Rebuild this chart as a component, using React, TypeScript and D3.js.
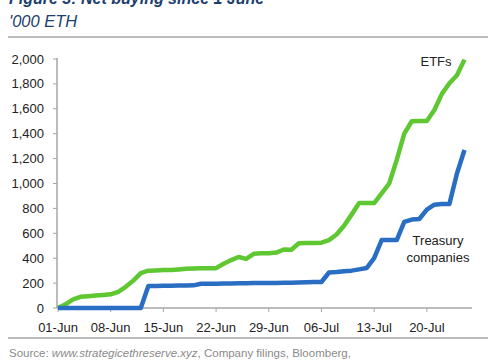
import React from 'react';
import * as d3 from 'd3';

// '000 ETH, daily from 01-Jun (index 0) to 25-Jul
const etfs = [
  0, 30, 70, 90, 95, 100, 105, 110, 130, 170, 220, 280, 300, 302, 305, 305, 310, 315, 318, 320,
  320, 320, 355, 385, 410, 395, 435, 440, 440, 445, 470, 468, 520, 522, 522, 525, 545, 590, 660, 750,
  843, 843, 843, 920, 1000, 1190, 1400, 1500, 1502, 1502, 1590, 1720, 1805, 1870, 1995,
];
const treasury = [
  0, 0, 0, 0, 0, 0, 0, 0, 0, 0, 0, 0, 177, 177, 178, 178, 180, 180, 182, 195,
  195, 195, 197, 197, 198, 198, 200, 200, 200, 200, 202, 203, 205, 207, 209, 209, 285, 289, 295, 300,
  310, 321, 400, 546, 546, 546, 691, 710, 715, 790, 830, 835, 835, 1080, 1269,
];
const startDay = new Date(2025, 5, 1);
const endDay = new Date(2025, 6, 26);
const xTickLabels = ['01-Jun', '08-Jun', '15-Jun', '22-Jun', '29-Jun', '06-Jul', '13-Jul', '20-Jul'];
const yTicks = [0, 200, 400, 600, 800, 1000, 1200, 1400, 1600, 1800, 2000];

const parseTick = d3.timeParse('%d-%b-%Y');

export default function App() {
  const width = 500;
  const height = 360;
  const left = 58;
  const right = 472;
  const top = 59;
  const bottom = 308;

  const x = d3.scaleTime().domain([startDay, endDay]).range([left, right]);
  const y = d3.scaleLinear().domain([0, 2000]).range([bottom, top]);

  const dayAt = (i: number) => d3.timeDay.offset(startDay, i);
  const line = d3.line<number>()
    .x((d, i) => x(dayAt(i)))
    .y(d => y(d));

  const font = '"Liberation Sans", Arial, sans-serif';
  const fmt = d3.format(',');

  return (
    <svg width={width} height={height} style={{ position: 'absolute', left: 0, top: 0, background: '#fff' }}
      fontFamily={font}>
      <text x={9} y={4} fontSize={16} fontWeight="bold" fontStyle="italic" fill="#1d3f6e">
        Figure 3: Net buying since 1 June
      </text>
      <text x={9} y={27} fontSize={16.5} fontStyle="italic" fill="#1d3f6e">'000 ETH</text>
      <line x1={8} x2={488} y1={37} y2={37} stroke="#7a7a7a" strokeWidth={1} />

      {/* y axis */}
      <line x1={left - 1} x2={left - 1} y1={top - 1} y2={bottom} stroke="#a6a6a6" strokeWidth={1.5} />
      {yTicks.map(t => (
        <g key={t}>
          <line x1={left - 5} x2={left - 1} y1={y(t)} y2={y(t)} stroke="#a6a6a6" />
          <text x={44} y={y(t)} dy="0.35em" textAnchor="end" fontSize={13} fill="#222">{fmt(t)}</text>
        </g>
      ))}

      {/* x axis */}
      <line x1={left - 1} x2={right} y1={bottom} y2={bottom} stroke="#a6a6a6" strokeWidth={1.5} />
      {xTickLabels.map(t => {
        const d = parseTick(t + '-2025') as Date;
        return (
          <g key={t}>
            <line x1={x(d)} x2={x(d)} y1={bottom} y2={bottom + 4} stroke="#a6a6a6" />
            <text x={x(d)} y={bottom + 24} textAnchor="middle" fontSize={13} fill="#222">{t}</text>
          </g>
        );
      })}

      <path d={line(etfs) ?? ''} fill="none" stroke="#5ec732" strokeWidth={4.5} strokeLinejoin="round" />
      <path d={line(treasury) ?? ''} fill="none" stroke="#2a6ec3" strokeWidth={4.5} strokeLinejoin="round" />

      <text x={436} y={66} textAnchor="middle" fontSize={13} fill="#222">ETFs</text>
      <text x={438} y={245} textAnchor="middle" fontSize={13} fill="#222">Treasury</text>
      <text x={438} y={262} textAnchor="middle" fontSize={13} fill="#222">companies</text>

      <line x1={8} x2={488} y1={338} y2={338} stroke="#7a7a7a" strokeWidth={1} />
      <text x={9} y={357} fontSize={11.5} fill="#8a8a8a">
        Source: <tspan fontStyle="italic">www.strategicethreserve.xyz</tspan>, Company filings, Bloomberg,
      </text>
    </svg>
  );
}
